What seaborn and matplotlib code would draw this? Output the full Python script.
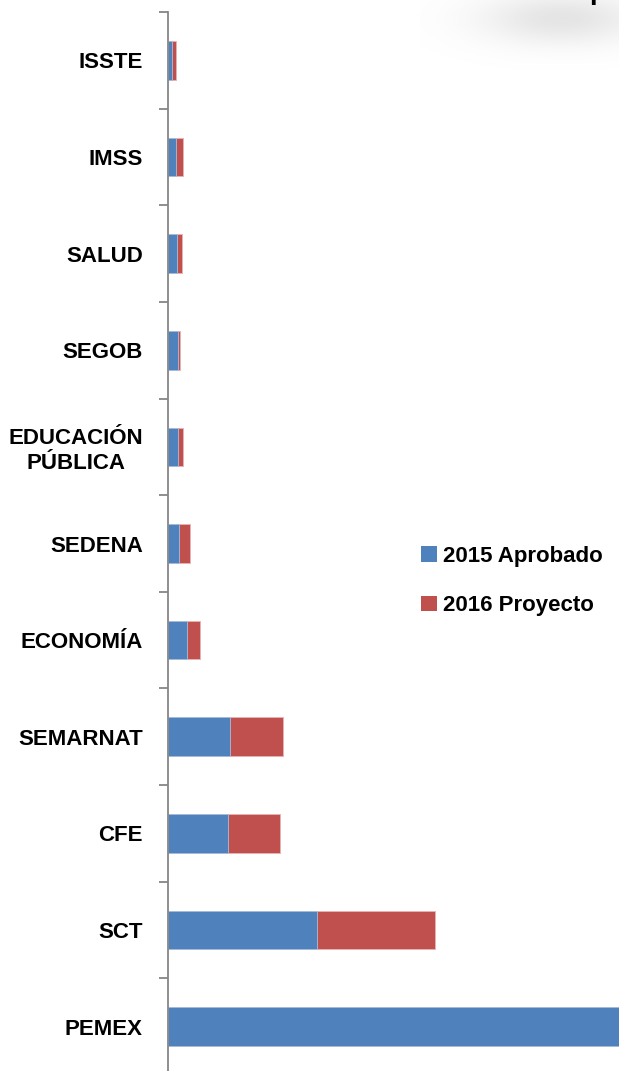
import numpy as np
import pandas as pd
import matplotlib
matplotlib.use("Agg")
import matplotlib.pyplot as plt
import seaborn as sns
from matplotlib.patches import Patch

categories = ["ISSTE", "IMSS", "SALUD", "SEGOB", "EDUCACIÓN\nPÚBLICA", "SEDENA",
              "ECONOMÍA", "SEMARNAT", "CFE", "SCT", "PEMEX"]
aprobado_2015 = [4.0, 7.5, 8.5, 10.0, 10.0, 11.0, 18.5, 62.0, 60.0, 149.0, 600.0]
proyecto_2016 = [4.0, 7.5, 5.5, 2.0, 5.0, 11.0, 13.5, 53.0, 52.0, 118.0, 60.0]
series_labels = ["2015 Aprobado", "2016 Proyecto"]
x_max = 451.0

BLUE = "#4F81BD"
RED = "#C0504D"
GRAY = "#868686"

sns.set_style("white")
plt.rcParams["font.family"] = ["Liberation Sans", "DejaVu Sans"]
plt.rcParams["text.color"] = "black"
plt.rcParams["ytick.color"] = GRAY
plt.rcParams["ytick.labelcolor"] = "black"

df = pd.DataFrame({"cat": categories, "a": aprobado_2015, "p": proyecto_2016})
df["total"] = df["a"] + df["p"]

fig = plt.figure(figsize=(6.19, 10.71), dpi=100)
ax = fig.add_axes([168 / 619, -4 / 1071, 1 - 168 / 619, 1063 / 1071])

sns.barplot(data=df, x="total", y="cat", color=RED, width=0.4, ax=ax,
            saturation=1, edgecolor="#E8B4B3", linewidth=0.6)
sns.barplot(data=df, x="a", y="cat", color=BLUE, width=0.4, ax=ax,
            saturation=1, edgecolor="#A9C0DE", linewidth=0.6)

ax.set_xlim(0, x_max)
ax.set_ylim(len(categories) - 0.5, -0.5)
ax.set_xlabel("")
ax.set_ylabel("")
ax.set_xticks([])
for s in ["top", "right", "bottom"]:
    ax.spines[s].set_visible(False)
ax.spines["left"].set_color(GRAY)
ax.spines["left"].set_linewidth(1.3)

ax.set_yticks(range(len(categories)))
ax.set_yticklabels(categories, fontsize=16, fontweight="bold", multialignment="center",
                   color="black")
ax.tick_params(axis="y", which="major", left=True, length=0, pad=18)
ax.set_yticks(np.arange(-0.5, len(categories) - 0.5, 1.0), minor=True)
ax.tick_params(axis="y", which="minor", left=True, length=6.5, width=1.3,
               color=GRAY, direction="out")

handles = [Patch(facecolor=BLUE, edgecolor="none"), Patch(facecolor=RED, edgecolor="none")]
leg = fig.legend(handles, series_labels, loc="center left",
                 bbox_to_anchor=(421 / 619, 1 - 581 / 1071), frameon=False,
                 prop={"size": 16, "weight": "bold"}, handlelength=0.7,
                 handleheight=0.7, handletextpad=0.3, labelspacing=1.3,
                 borderaxespad=0, borderpad=0)
for t in leg.get_texts():
    t.set_color("black")

# decorative soft shadow in the top-right corner
yy, xx = np.mgrid[0:70, 0:200]
blob = np.exp(-(((xx - 140) / 80.0) ** 2 + ((yy - 18) / 26.0) ** 2))
sh = fig.add_axes([420 / 619, 1 - 70 / 1071, 200 / 619, 70 / 1071])
rgba = np.zeros((70, 200, 4))
rgba[..., :3] = 0.6
rgba[..., 3] = 0.26 * blob
sh.imshow(rgba, aspect="auto", interpolation="bilinear")
sh.axis("off")
fig.text(589 / 619, 1 + 1 / 1071, "p", fontsize=20, fontweight="bold",
         ha="left", va="baseline", color="black")

fig.savefig("out.png", dpi=100)
